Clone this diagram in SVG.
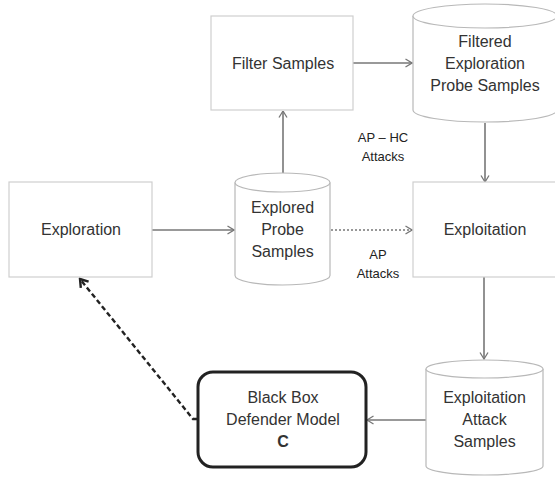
<svg xmlns="http://www.w3.org/2000/svg" width="555" height="480" viewBox="0 0 555 480">
<defs>
<marker id="arr" viewBox="0 0 8 10" refX="7.5" refY="5" markerWidth="8" markerHeight="10" markerUnits="userSpaceOnUse" orient="auto">
<path d="M1,1 L7.5,5 L1,9" fill="none" stroke="#777" stroke-width="1.3"/>
</marker>
<marker id="arrd" viewBox="0 0 10 12" refX="8.5" refY="6" markerWidth="10" markerHeight="12" markerUnits="userSpaceOnUse" orient="auto">
<path d="M1,1 L8.5,6 L1,11" fill="none" stroke="#222" stroke-width="2.4"/>
</marker>
<style>
.box{fill:#fff;stroke:#cfcfcf;stroke-width:1.2}
.cyl{fill:#fff;stroke:#b8b8b8;stroke-width:1.2}
.t{font-family:"Liberation Sans",Arial,sans-serif;font-size:16px;fill:#333;text-anchor:middle}
.lbl{font-family:"Liberation Sans",Arial,sans-serif;font-size:13px;fill:#222;text-anchor:middle}
.c{fill:none;stroke:#777;stroke-width:1.6}
</style>
</defs>
<rect width="555" height="480" fill="#fff"/>
<g id="connectors">
<line class="c" x1="152" y1="230" x2="234" y2="230" marker-end="url(#arr)"/>
<line class="c" x1="331" y1="230" x2="412" y2="230" stroke-dasharray="2,2" marker-end="url(#arr)"/>
<line class="c" x1="283" y1="173" x2="283" y2="111" marker-end="url(#arr)"/>
<line class="c" x1="353" y1="63" x2="412" y2="63" marker-end="url(#arr)"/>
<line class="c" x1="485" y1="123" x2="485" y2="182" marker-end="url(#arr)"/>
<line class="c" x1="484" y1="277" x2="484" y2="359" marker-end="url(#arr)"/>
<line class="c" x1="426" y1="420" x2="367" y2="420" marker-end="url(#arr)"/>
<path d="M197,419 L193,419 L80,279" fill="none" stroke="#222" stroke-width="2.4" stroke-dasharray="5,3" marker-end="url(#arrd)"/>
<text class="lbl" x="383" y="142">AP – HC</text>
<text class="lbl" x="383" y="161">Attacks</text>
<text class="lbl" x="378" y="259">AP</text>
<text class="lbl" x="378" y="278">Attacks</text>
</g>
<g id="exploration">
<rect class="box" x="9" y="182" width="143" height="95"/>
<text class="t" x="81" y="235">Exploration</text>
</g>
<g id="explored-probe-samples">
<path class="cyl" d="M235,182.5 V275.5 A47.5,9.5 0 0 0 330,275.5 V182.5"/>
<ellipse class="cyl" cx="282.5" cy="182.5" rx="47.5" ry="9.5"/>
<text class="t" x="282.5" y="213">Explored</text>
<text class="t" x="282.5" y="235">Probe</text>
<text class="t" x="282.5" y="257">Samples</text>
</g>
<g id="filter-samples">
<rect class="box" x="211" y="16" width="142" height="94"/>
<text class="t" x="283" y="69">Filter Samples</text>
</g>
<g id="filtered-exploration-probe-samples">
<path class="cyl" d="M413,16 V110 A72,12 0 0 0 557,110 V16"/>
<ellipse class="cyl" cx="485" cy="16" rx="72" ry="12"/>
<text class="t" x="485" y="47">Filtered</text>
<text class="t" x="485" y="69">Exploration</text>
<text class="t" x="485" y="91">Probe Samples</text>
</g>
<g id="exploitation">
<rect class="box" x="413" y="182" width="145" height="95"/>
<text class="t" x="485" y="235">Exploitation</text>
</g>
<g id="exploitation-attack-samples">
<path class="cyl" d="M426,369 V466 A58.5,9 0 0 0 543,466 V369"/>
<ellipse class="cyl" cx="484.5" cy="369" rx="58.5" ry="9"/>
<text class="t" x="484.5" y="403">Exploitation</text>
<text class="t" x="484.5" y="425">Attack</text>
<text class="t" x="484.5" y="447">Samples</text>
</g>
<g id="black-box-defender-model">
<rect x="198" y="372" width="168" height="95" rx="15" ry="15" fill="#fff" stroke="#222" stroke-width="3"/>
<text class="t" x="283" y="403">Black Box</text>
<text class="t" x="283" y="425">Defender Model</text>
<text class="t" x="283" y="447" font-weight="bold">C</text>
</g>
</svg>
